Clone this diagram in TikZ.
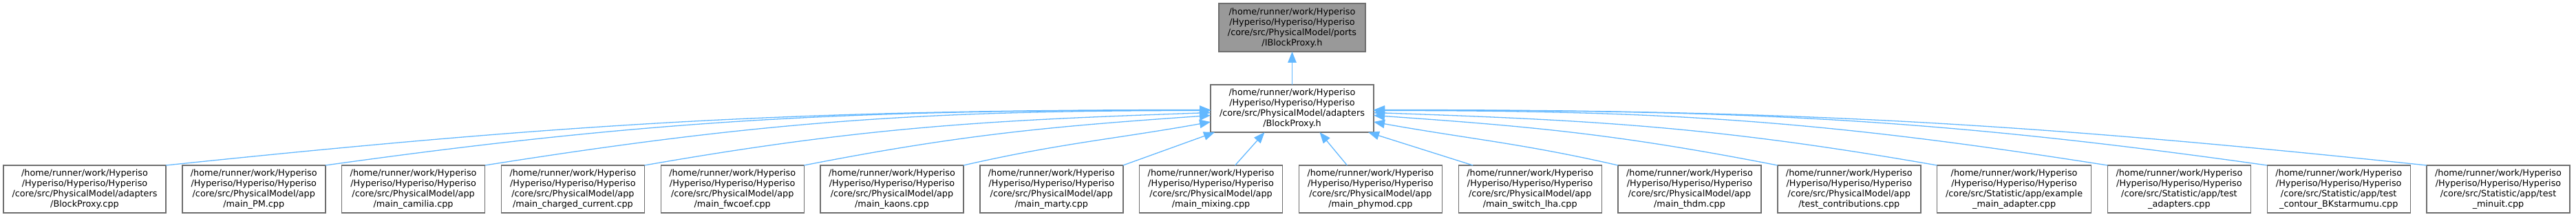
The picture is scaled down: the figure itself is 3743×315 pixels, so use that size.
\documentclass[tikz,border=0pt]{standalone}
\usepackage{fontspec}
\setmainfont{DejaVu Sans}
\usepackage{tikz}
\usetikzlibrary{arrows.meta,positioning}
\definecolor{edgeblue}{RGB}{99,184,255}
\definecolor{boxline}{RGB}{110,110,110}
\definecolor{boxfill}{RGB}{153,153,153}
\newcommand{\hyproot}{/home/runner/work/Hyperiso\\/Hyperiso/Hyperiso/Hyperiso\\/core/src}
\tikzset{
  srcfile/.style={draw=boxline, line width=1.4pt, fill=white, align=center, inner sep=2pt, outer sep=0pt,
    minimum width=208pt, minimum height=69pt, font=\fontsize{12.8}{15}\selectfont},
  header/.style={srcfile, fill=boxfill},
  incl/.style={draw=edgeblue, line width=1.3pt, -{Triangle[length=16pt,width=12.5pt]}}
}

\begin{document}
\begin{tikzpicture}[x=1pt, y=1pt, node distance=23.8pt]
  \useasboundingbox (0,0) rectangle (3743,315);
  \node[header, minimum width=213pt, minimum height=70pt] (top) at (1877.5,275)
    {\hyproot/PhysicalModel/ports\\/IBlockProxy.h};
  \node[srcfile, minimum width=237pt] (mid) at (1877.5,157.5)
    {\hyproot/PhysicalModel/adapters\\/BlockProxy.h};
  % files including the adapter header
  \node[srcfile, minimum width=236pt] (b1) at (123,40.5) {\hyproot/PhysicalModel/adapters\\/BlockProxy.cpp};
  \node[srcfile, right=of b1] (b2) {\hyproot/PhysicalModel/app\\/main\_PM.cpp};
  \node[srcfile, right=of b2] (b3) {\hyproot/PhysicalModel/app\\/main\_camilia.cpp};
  \node[srcfile, right=of b3] (b4) {\hyproot/PhysicalModel/app\\/main\_charged\_current.cpp};
  \node[srcfile, right=of b4] (b5) {\hyproot/PhysicalModel/app\\/main\_fwcoef.cpp};
  \node[srcfile, right=of b5] (b6) {\hyproot/PhysicalModel/app\\/main\_kaons.cpp};
  \node[srcfile, right=of b6] (b7) {\hyproot/PhysicalModel/app\\/main\_marty.cpp};
  \node[srcfile, right=of b7] (b8) {\hyproot/PhysicalModel/app\\/main\_mixing.cpp};
  \node[srcfile, right=of b8] (b9) {\hyproot/PhysicalModel/app\\/main\_phymod.cpp};
  \node[srcfile, right=of b9] (b10) {\hyproot/PhysicalModel/app\\/main\_switch\_lha.cpp};
  \node[srcfile, right=of b10] (b11) {\hyproot/PhysicalModel/app\\/main\_thdm.cpp};
  \node[srcfile, right=of b11] (b12) {\hyproot/PhysicalModel/app\\/test\_contributions.cpp};
  \node[srcfile, minimum width=224pt, right=of b12] (b13) {\hyproot/Statistic/app/example\\\_main\_adapter.cpp};
  \node[srcfile, right=of b13] (b14) {\hyproot/Statistic/app/test\\\_adapters.cpp};
  \node[srcfile, right=of b14] (b15) {\hyproot/Statistic/app/test\\\_contour\_BKstarmumu.cpp};
  \node[srcfile, right=of b15] (b16) {\hyproot/Statistic/app/test\\\_minuit.cpp};

  \draw[incl] (mid) -- (top);
  \draw[incl] (b1.north east) .. controls +(595,62) and +(-595,0) .. ([yshift=-2pt]mid.west);
  \draw[incl] (b2.north east) .. controls +(500,70) and +(-500,0) .. ([yshift=-2.5pt]mid.west);
  \draw[incl] (b3.north east) .. controls +(410,65) and +(-410,0) .. ([yshift=-3pt]mid.west);
  \draw[incl] (b4.north east) .. controls +(320,56) and +(-320,-11) .. ([yshift=-6pt]mid.west);
  \draw[incl] (b5.north east) .. controls +(230,45) and +(-230,-16) .. ([yshift=-10pt]mid.west);
  \draw[incl] (b6.north east) .. controls +(140,32) and +(-140,-25) .. ([yshift=-19.5pt]mid.west);
  \draw[incl] (b7.north east) -- ([xshift=6pt]mid.south west);
  \draw[incl] ([xshift=35pt]b8.north) -- ([xshift=-40pt]mid.south);
  \draw[incl] ([xshift=-34pt]b9.north) -- ([xshift=40pt]mid.south);
  \draw[incl] ([xshift=21pt]b10.north west) -- ([xshift=-8pt]mid.south east);
  \draw[incl] (b11.north west) .. controls +(-140,32) and +(140,-25) .. ([yshift=-19.5pt]mid.east);
  \draw[incl] (b12.north west) .. controls +(-230,45) and +(230,-16) .. ([yshift=-10pt]mid.east);
  \draw[incl] (b13.north west) .. controls +(-320,56) and +(320,-11) .. ([yshift=-6pt]mid.east);
  \draw[incl] (b14.north west) .. controls +(-420,66) and +(420,0) .. ([yshift=-3pt]mid.east);
  \draw[incl] (b15.north west) .. controls +(-510,72) and +(510,0) .. ([yshift=-2.5pt]mid.east);
  \draw[incl] (b16.north west) .. controls +(-600,63) and +(600,0) .. ([yshift=-2pt]mid.east);
\end{tikzpicture}
\end{document}
